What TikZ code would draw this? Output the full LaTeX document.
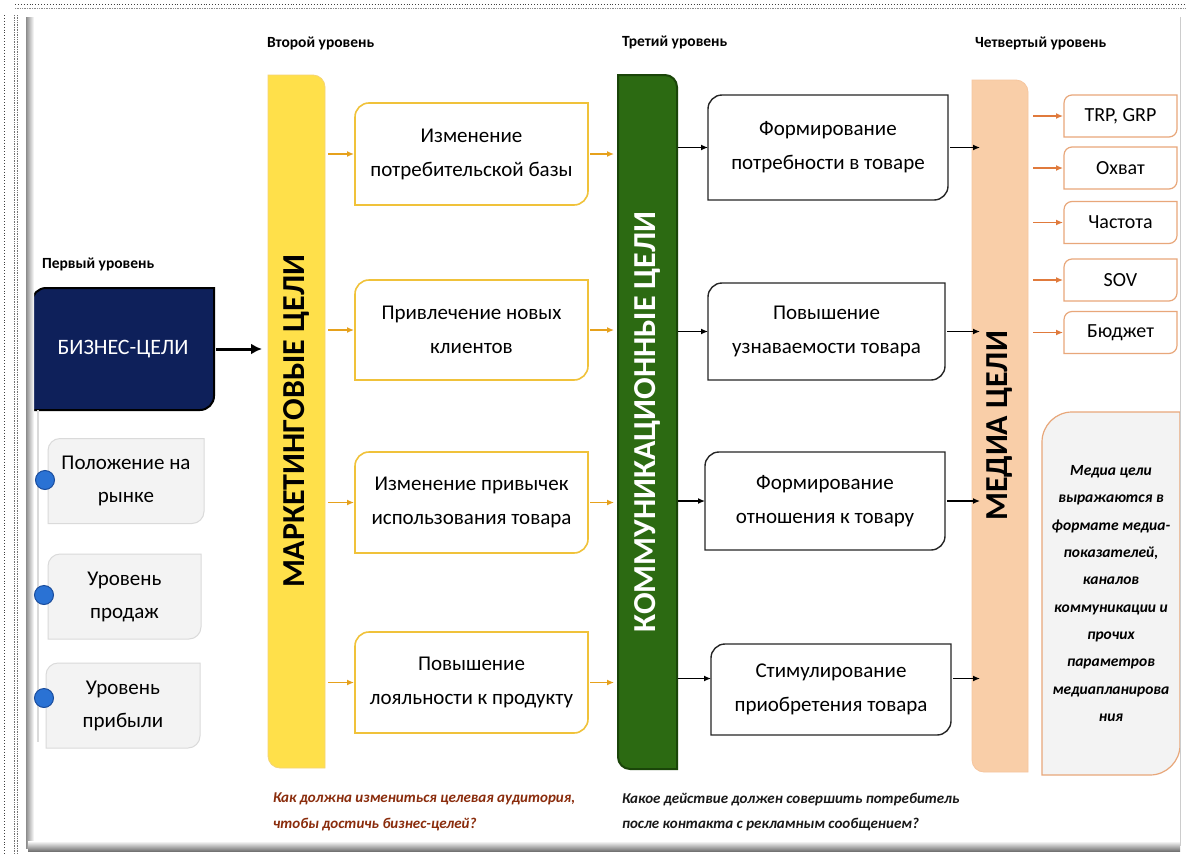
\documentclass[tikz,border=0pt]{standalone}
\usepackage{fontspec}
\setmainfont{Carlito}
\usetikzlibrary{arrows.meta,calc}
\pgfdeclarelayer{background}
\pgfsetlayers{background,main}

\definecolor{barYellow}{HTML}{FFE04A}
\definecolor{edgeGold}{HTML}{F0C23A}
\definecolor{arrowGold}{HTML}{E6A11C}
\definecolor{barGreen}{HTML}{2C6A12}
\definecolor{edgeGreen}{HTML}{1A4509}
\definecolor{barPeach}{HTML}{F9CEA8}
\definecolor{edgePeach}{HTML}{E8A77A}
\definecolor{arrowOrange}{HTML}{E07A3C}
\definecolor{navy}{HTML}{0E205A}
\definecolor{softGray}{HTML}{F3F3F3}
\definecolor{lineGray}{HTML}{DADADA}
\definecolor{dotBlue}{HTML}{2A72D4}
\definecolor{dotBlueEdge}{HTML}{1A4C9C}
\definecolor{questionRed}{HTML}{8A2C0C}

% box outline with rounded top-left and bottom-right corners (drawn behind node #1)
\newcommand\shapeTLBR[3]{%
  \begin{pgfonlayer}{background}
  \path[#3] ([yshift=-#2]#1.north west)
    .. controls ([yshift=-0.45*#2]#1.north west) and ([xshift=0.45*#2]#1.north west) .. ([xshift=#2]#1.north west)
    -- (#1.north east) -- ([yshift=#2]#1.south east)
    .. controls ([yshift=0.45*#2]#1.south east) and ([xshift=-0.45*#2]#1.south east) .. ([xshift=-#2]#1.south east)
    -- (#1.south west) -- cycle;
  \end{pgfonlayer}}
% bar outline with rounded top-right and bottom-left corners
\newcommand\shapeTRBL[3]{%
  \begin{pgfonlayer}{background}
  \path[#3] (#1.north west) -- ([xshift=-#2]#1.north east)
    .. controls ([xshift=-0.45*#2]#1.north east) and ([yshift=-0.45*#2]#1.north east) .. ([yshift=-#2]#1.north east)
    -- (#1.south east) -- ([xshift=#2]#1.south west)
    .. controls ([xshift=0.45*#2]#1.south west) and ([yshift=0.45*#2]#1.south west) .. ([yshift=#2]#1.south west)
    -- cycle;
  \end{pgfonlayer}}

\tikzset{
  base/.style={inner sep=0pt, outer sep=0pt, align=center},
  boxtxt/.style={base, font=\fontsize{21}{34}\selectfont},
  sidetxt/.style={base, font=\fontsize{21}{33}\selectfont},
  medtxt/.style={base, font=\fontsize{20}{24}\selectfont, minimum width=113pt, minimum height=42pt},
  lvl/.style={base, anchor=west, font=\bfseries\fontsize{15.5}{18}\selectfont},
  bartxt/.style={base, rotate=90, font=\bfseries\fontsize{32}{32}\selectfont},
  question/.style={base, anchor=north west, align=left, font=\bfseries\itshape\fontsize{15}{25.5}\selectfont},
  goldarrow/.style={draw=arrowGold, line width=1.3pt, -{Latex[length=7pt,width=6pt]}},
  blackarrow/.style={draw=black, line width=1.3pt, -{Latex[length=7pt,width=6pt]}},
  orarrow/.style={draw=arrowOrange, line width=1.3pt, -{Latex[length=7pt,width=6pt]}},
  bigarrow/.style={draw=black, line width=3pt, -{Latex[length=11pt,width=11pt]}},
  bullet/.style={circle, fill=dotBlue, draw=dotBlueEdge, line width=1pt, minimum size=19pt, inner sep=0pt},
}

\begin{document}
\begin{tikzpicture}[x=1pt, y=-1pt]
\useasboundingbox (0,0) rectangle (1186,854);
\begin{pgfonlayer}{background}
\fill[white] (0,0) rectangle (1186,854);
\end{pgfonlayer}

% dotted page edges
\draw[black!75, dotted, line width=0.9pt] (15,4) -- (1186,4);
\draw[black!45, densely dotted, line width=0.7pt] (15,8) -- (1186,8);
\draw[black!75, dotted, line width=0.9pt] (4,15) -- (4,854);
\draw[black!55, densely dotted, line width=0.7pt] (14,15) -- (14,854);
\draw[black!55, densely dotted, line width=0.7pt] (17,15) -- (17,854);

% white panel with shadowed left and bottom edges
\shade[left color=black!45, right color=white] (26,17) rectangle (34,848);
\shade[top color=white, bottom color=black!55] (28,841) rectangle (1180,851);
\draw[black!20, line width=1pt] (1180,17) -- (1180,846);

% level captions
\node[lvl] (l1) at (42,264) {Первый уровень};
\node[lvl] (l2) at (267,43) {Второй уровень};
\node[lvl] (l3) at (622,42) {Третий уровень};
\node[lvl] (l4) at (975,43) {Четвертый уровень};

% first level: business goals
\node[base, minimum width=182pt, minimum height=122pt, text=white,
      font=\fontsize{22}{26}\selectfont] (biz) at (123,349) {БИЗНЕС-ЦЕЛИ};
\shapeTLBR{biz}{14pt}{fill=navy, draw=black, line width=2pt}

\coordinate (railtop) at (38,410);
\coordinate (railend) at (38,742);
\begin{pgfonlayer}{background}
\draw[lineGray, line width=1.5pt] (railtop) -- (railend);
\end{pgfonlayer}

\node[sidetxt, minimum width=156pt, minimum height=85pt] (g1) at (126,481) {Положение на\\рынке};
\node[sidetxt, minimum width=153pt, minimum height=85pt] (g2) at (124.5,596.5) {Уровень\\продаж};
\node[sidetxt, minimum width=154pt, minimum height=85pt] (g3) at (123,705.5) {Уровень\\прибыли};
\foreach \g in {g1,g2,g3}{\shapeTLBR{\g}{12pt}{fill=softGray, draw=lineGray, line width=1pt}}
\node[bullet] (d1) at (45,480) {};
\node[bullet] (d2) at (44,595) {};
\node[bullet] (d3) at (44,698) {};

% second level: marketing goals
\node[base, minimum width=57pt, minimum height=693pt] (mkt) at (296.5,421.5) {};
\shapeTRBL{mkt}{12pt}{fill=barYellow, draw=edgeGold!70, line width=0.8pt}
\node[bartxt] (mktlabel) at (mkt.center) {МАРКЕТИНГОВЫЕ ЦЕЛИ};

\node[boxtxt, minimum width=233pt, minimum height=102pt] (m1) at (471.5,154) {Изменение\\потребительской базы};
\node[boxtxt, minimum width=233pt, minimum height=100pt] (m2) at (471.5,330) {Привлечение новых\\клиентов};
\node[boxtxt, minimum width=233pt, minimum height=101pt] (m3) at (471.5,502.5) {Изменение привычек\\использования товара};
\node[boxtxt, minimum width=233pt, minimum height=101pt] (m4) at (471.5,682.5) {Повышение\\лояльности к продукту};
\foreach \m in {m1,m2,m3,m4}{\shapeTLBR{\m}{14pt}{fill=white, draw=edgeGold, line width=1.6pt}}

% third level: communication goals
\node[base, minimum width=59pt, minimum height=694pt] (com) at (647.5,422) {};
\shapeTRBL{com}{12pt}{fill=barGreen, draw=edgeGreen, line width=2pt}
\node[bartxt, text=white] (comlabel) at (com.center) {КОММУНИКАЦИОННЫЕ ЦЕЛИ};

\node[boxtxt, minimum width=240pt, minimum height=105pt] (s1) at (828,147.5) {Формирование\\потребности в товаре};
\node[boxtxt, minimum width=237pt, minimum height=97pt] (s2) at (826.5,331.5) {Повышение\\узнаваемости товара};
\node[boxtxt, minimum width=240pt, minimum height=98pt] (s3) at (825,501) {Формирование\\отношения к товару};
\node[boxtxt, minimum width=240pt, minimum height=91pt] (s4) at (831,689.5) {Стимулирование\\приобретения товара};
\foreach \s in {s1,s2,s3,s4}{\shapeTLBR{\s}{14pt}{fill=white, draw=black!85, line width=1.4pt}}

% fourth level: media goals
\node[base, minimum width=56pt, minimum height=692pt] (med) at (1000,426) {};
\shapeTRBL{med}{12pt}{fill=barPeach, draw=barPeach!80!edgePeach, line width=0.8pt}
\node[bartxt] (medlabel) at (med.center) {МЕДИА ЦЕЛИ};

\node[medtxt] (t1) at (1120.5,116) {TRP, GRP};
\node[medtxt] (t2) at (1120.5,168) {Охват};
\node[medtxt] (t3) at (1120.5,222.5) {Частота};
\node[medtxt] (t4) at (1120.5,280) {SOV};
\node[medtxt] (t5) at (1120.5,332.5) {Бюджет};
\foreach \t in {t1,t2,t3,t4,t5}{\shapeTLBR{\t}{8pt}{fill=white, draw=edgePeach, line width=1.2pt}}

\node[base, minimum width=138pt, minimum height=363pt,
      font=\bfseries\itshape\fontsize{15.5}{27.3}\selectfont] (note) at (1111,593.5)
  {Медиа цели\\выражаются в\\формате медиа-\\показателей,\\каналов\\коммуникации и\\прочих\\параметров\\медиапланирова\\ния};
\shapeTLBR{note}{30pt}{fill=softGray, draw=edgePeach, line width=1.2pt}

% guiding questions
\node[question, text=questionRed] (q1) at (273,793) {Как должна измениться целевая аудитория,\\чтобы достичь бизнес-целей?};
\node[question, text=black!90] (q2) at (622,793) {Какое действие должен совершить потребитель\\после контакта с рекламным сообщением?};

% connectors
\draw[bigarrow, shorten <=2pt, shorten >=6pt] (biz.east) -- (mkt.west |- biz.east);

\foreach \m in {m1,m2,m3,m4}{
  \draw[goldarrow, shorten <=3pt, shorten >=1pt] (mkt.east |- \m.west) -- (\m.west);
  \draw[goldarrow, shorten <=2pt, shorten >=4pt] (\m.east) -- (com.west |- \m.east);
}

\coordinate (s4in) at ($(s4.west)+(0,-11)$);
\coordinate (s4out) at ($(s4.east)+(0,-11)$);
\foreach \s in {s1,s2,s3}{
  \draw[blackarrow, shorten <=1pt] (com.east |- \s.west) -- (\s.west);
  \draw[blackarrow, shorten <=2pt, shorten >=-8pt] (\s.east) -- (med.west |- \s.east);
}
\draw[blackarrow, shorten <=1pt] (com.east |- s4in) -- (s4in);
\draw[blackarrow, shorten <=2pt, shorten >=-8pt] (s4out) -- (med.west |- s4out);

\foreach \t in {t1,t2,t3,t4,t5}{
  \draw[orarrow, shorten <=5pt, shorten >=1pt] (med.east |- \t.west) -- (\t.west);
}
\end{tikzpicture}
\end{document}
